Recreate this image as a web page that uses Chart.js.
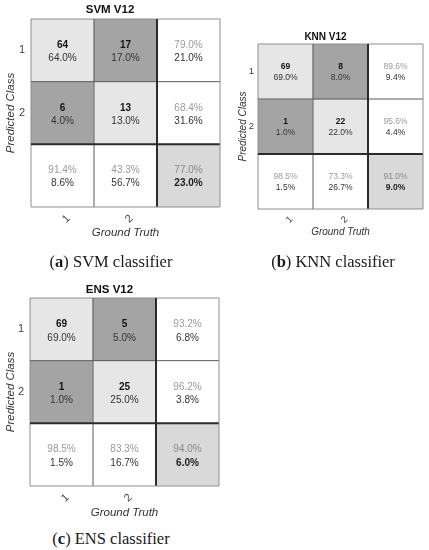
<!DOCTYPE html>
<html>
<head>
<meta charset="utf-8">
<script src="https://cdn.jsdelivr.net/npm/chart.js@4.4.1/dist/chart.umd.min.js"></script>
<style>
  body { margin: 0; background: #fff; width: 429px; height: 550px; position: relative; overflow: hidden; }
  canvas { position: absolute; }
  .cap {
    position: absolute; white-space: nowrap; transform: translate(-50%, -50%);
    font-family: "Liberation Serif", "Times New Roman", serif; font-size: 16.5px; color: #1a1a1a;
  }
</style>
</head>
<body>
<canvas id="chartSvm" width="226" height="246" style="left:0;top:0"></canvas>
<canvas id="chartKnn" width="201" height="246" style="left:228px;top:0"></canvas>
<canvas id="chartEns" width="226" height="256" style="left:0;top:270px"></canvas>
<div class="cap" style="left:111px;top:262px">(<b>a</b>) SVM classifier</div>
<div class="cap" style="left:333px;top:262px">(<b>b</b>) KNN classifier</div>
<div class="cap" style="left:111px;top:539px">(<b>c</b>) ENS classifier</div>

<script>
// Данные
const CLASSES  = ['1', '2'];
const X_LABELS = ['1', '2', ''];

const SVM_COUNTS = [[64, 17], [6, 13]];
const SVM_PCT    = [[64.0, 17.0], [4.0, 13.0]];
const SVM_ROW    = [[79.0, 21.0], [68.4, 31.6]];
const SVM_COL    = [[91.4, 8.6], [43.3, 56.7]];
const SVM_TOTAL  = [77.0, 23.0];

const KNN_COUNTS = [[69, 8], [1, 22]];
const KNN_PCT    = [[69.0, 8.0], [1.0, 22.0]];
const KNN_ROW    = [[89.6, 9.4], [95.6, 4.4]];
const KNN_COL    = [[98.5, 1.5], [73.3, 26.7]];
const KNN_TOTAL  = [91.0, 9.0];

const ENS_COUNTS = [[69, 5], [1, 25]];
const ENS_PCT    = [[69.0, 5.0], [1.0, 25.0]];
const ENS_ROW    = [[93.2, 6.8], [96.2, 3.8]];
const ENS_COL    = [[98.5, 1.5], [83.3, 16.7]];
const ENS_TOTAL  = [94.0, 6.0];

// Оформление
const FONT  = '"Liberation Sans", Arial, Helvetica, sans-serif';
const LIGHT = '#e6e6e6';
const DARK  = '#a4a4a4';
const WHITE = '#ffffff';
const TOTAL = '#d9d9d9';

Chart.defaults.font.family = FONT;
Chart.defaults.animation = false;

const fmt = v => v.toFixed(1) + '%';

// линии сетки и подписи в ячейках
const matrixPlugin = {
  id: 'matrix',
  afterDatasetsDraw(chart, args, o) {
    const { ctx } = chart;
    const x = chart.scales.x, y = chart.scales.y;
    const n = CLASSES.length;
    ctx.save();

    const x0 = x.getPixelForValue(-0.5), x1 = x.getPixelForValue(n + 0.5);
    const y0 = y.getPixelForValue(0),    y1 = y.getPixelForValue(n + 1);
    for (let k = 0; k <= n + 1; k++) {
      const px = x.getPixelForValue(k - 0.5);
      const py = y.getPixelForValue(k);
      const outer = k === 0 || k === n + 1;
      ctx.lineWidth   = k === n ? 2 : 1;
      ctx.strokeStyle = k === n ? '#2b2b2b' : (outer ? '#8e8e8e' : '#5a5a5a');
      ctx.beginPath();
      ctx.moveTo(px, y0); ctx.lineTo(px, y1);
      ctx.moveTo(x0, py); ctx.lineTo(x1, py);
      ctx.stroke();
    }

    ctx.textAlign = 'center';
    ctx.textBaseline = 'middle';
    const put = (c, r, top, bottom) => {
      const cx = x.getPixelForValue(c);
      const cy = y.getPixelForValue(r + 0.5);
      ctx.font = `${top[2] ? 'bold ' : ''}${o.size}px ${FONT}`;
      ctx.fillStyle = top[1];
      ctx.fillText(top[0], cx, cy + o.dyTop);
      ctx.font = `${bottom[2] ? 'bold ' : ''}${o.size}px ${FONT}`;
      ctx.fillStyle = bottom[1];
      ctx.fillText(bottom[0], cx, cy + o.dyBot);
    };

    for (let r = 0; r < n; r++) {
      for (let c = 0; c < n; c++) {
        put(c, r, [String(o.counts[r][c]), '#141414', true], [fmt(o.pct[r][c]), '#333', false]);
      }
      put(n, r, [fmt(o.rowSum[r][0]), '#9a9a9a', false], [fmt(o.rowSum[r][1]), '#333', false]);
    }
    for (let c = 0; c < n; c++) {
      put(c, n, [fmt(o.colSum[c][0]), '#9a9a9a', false], [fmt(o.colSum[c][1]), '#333', false]);
    }
    put(n, n, [fmt(o.total[0]), '#8a8a8a', false], [fmt(o.total[1]), '#1e1e1e', true]);
    ctx.restore();
  }
};

function cellColor(r, c) {
  const n = CLASSES.length;
  if (r === n && c === n) return TOTAL;
  if (r === n || c === n) return WHITE;
  return r === c ? LIGHT : DARK;
}

function makeChart(id, title, m, L) {
  const rows = CLASSES.length + 1;
  const datasets = [];
  for (let r = 0; r < rows; r++) {
    datasets.push({
      data: X_LABELS.map(() => [r, r + 1]),
      backgroundColor: X_LABELS.map((_, c) => cellColor(r, c)),
      borderWidth: 0,
      grouped: false,
      barPercentage: 1,
      categoryPercentage: 1,
    });
  }

  return new Chart(document.getElementById(id), {
    type: 'bar',
    data: { labels: X_LABELS, datasets },
    options: {
      responsive: false,
      layout: { padding: { left: 0, top: 0, right: L.padRight, bottom: 0 } },
      plugins: {
        legend: { display: false },
        tooltip: { enabled: false },
        title: {
          display: true, text: title, color: '#111',
          font: { size: L.titleSize, weight: 'bold' },
          padding: { top: L.titleTop, bottom: L.titleBottom },
        },
        matrix: { ...m, size: L.cellSize, dyTop: L.dyTop, dyBot: L.dyBot },
      },
      scales: {
        x: {
          grid: { display: false, drawTicks: false },
          border: { display: false },
          ticks: {
            color: '#444', font: { size: L.tickSize }, autoSkip: false,
            minRotation: 45, maxRotation: 45, padding: L.xTickPad, labelOffset: 6,
          },
          title: {
            display: true, text: 'Ground Truth', color: '#333',
            font: { size: L.axisSize, style: 'italic' },
            padding: { top: 0, bottom: L.xTitlePad },
          },
          afterFit: s => { s.height = L.xHeight; },
        },
        y: {
          min: 0, max: 3, reverse: true,
          grid: { display: false, drawTicks: false },
          border: { display: false },
          afterBuildTicks: s => { s.ticks = CLASSES.map((_, i) => ({ value: i + 0.5 })); },
          ticks: {
            color: '#444', font: { size: L.tickSize }, padding: L.yTickPad,
            callback: v => CLASSES[Math.round(v - 0.5)],
          },
          title: {
            display: true, text: 'Predicted Class', color: '#333',
            font: { size: L.axisSize, style: 'italic' },
            padding: { top: L.yTitlePad, bottom: 0 },
          },
          afterFit: s => { s.width = L.yWidth; },
        },
      },
    },
    plugins: [matrixPlugin],
  });
}

makeChart('chartSvm', 'SVM V12',
  { counts: SVM_COUNTS, pct: SVM_PCT, rowSum: SVM_ROW, colSum: SVM_COL, total: SVM_TOTAL },
  { padRight: 6, titleSize: 11.5, titleTop: 3, titleBottom: 2.2, cellSize: 10, dyTop: -5, dyBot: 8,
    tickSize: 11, xTickPad: 5, axisSize: 11.5, xTitlePad: 6, xHeight: 39, yTickPad: 6, yTitlePad: 4, yWidth: 31 });

makeChart('chartKnn', 'KNN V12',
  { counts: KNN_COUNTS, pct: KNN_PCT, rowSum: KNN_ROW, colSum: KNN_COL, total: KNN_TOTAL },
  { padRight: 6, titleSize: 10, titleTop: 31, titleBottom: 1, cellSize: 8.5, dyTop: -4.5, dyBot: 6,
    tickSize: 9.5, xTickPad: 5, axisSize: 10, xTitlePad: 8, xHeight: 37, yTickPad: 4, yTitlePad: 9, yWidth: 30 });

makeChart('chartEns', 'ENS V12',
  { counts: ENS_COUNTS, pct: ENS_PCT, rowSum: ENS_ROW, colSum: ENS_COL, total: ENS_TOTAL },
  { padRight: 7, titleSize: 11.5, titleTop: 13, titleBottom: 1.2, cellSize: 10, dyTop: -5, dyBot: 8.5,
    tickSize: 11, xTickPad: 5, axisSize: 11.5, xTitlePad: 6, xHeight: 40, yTickPad: 6, yTitlePad: 4, yWidth: 30 });
</script>
</body>
</html>
